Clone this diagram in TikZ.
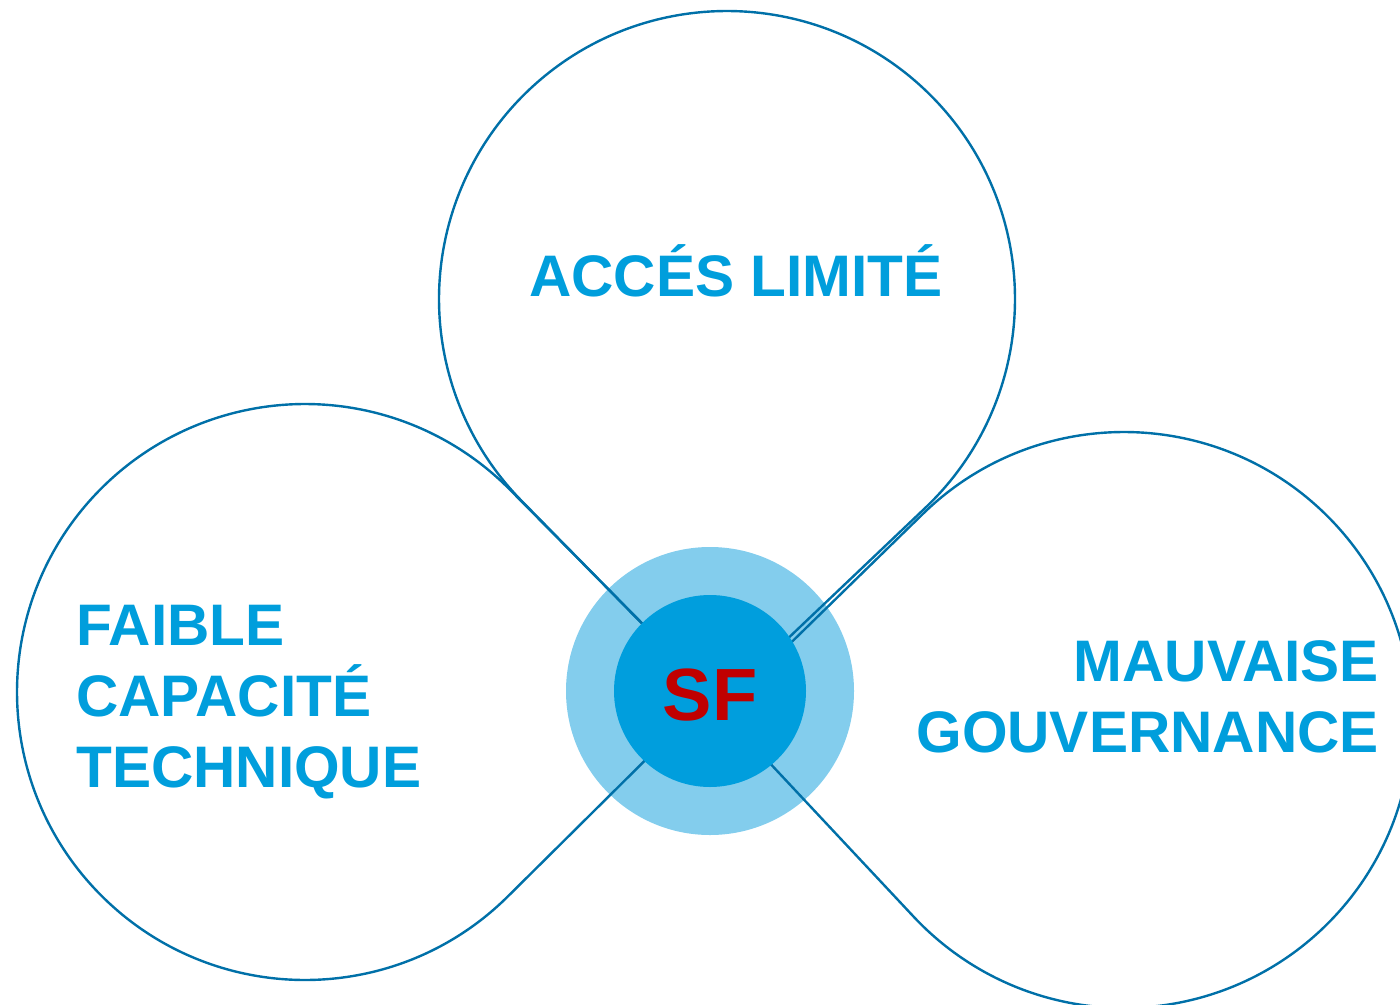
\documentclass[tikz,border=0pt]{standalone}
\usepackage{fontspec}
\setmainfont{Liberation Sans}
\definecolor{lineblue}{RGB}{0,112,168}
\definecolor{textblue}{RGB}{0,158,220}
\definecolor{innerblue}{RGB}{0,158,221}
\definecolor{lightblue}{RGB}{131,205,237}
\definecolor{sfred}{RGB}{192,0,0}
\tikzset{
  petal/.style={draw=lineblue, line width=2.4pt, line join=round},
  lbl/.style={text=textblue, font=\fontsize{58.6}{71}\selectfont\bfseries, inner sep=0pt},
}
\begin{document}
\begin{tikzpicture}[x=1pt,y=-1pt]
\useasboundingbox (0,0) rectangle (1400,1004);
\clip (0,0) rectangle (1400,1004);
% centre outer ring
\node[circle, fill=lightblue, minimum size=288pt, inner sep=0pt] (ring) at (710,691) {};
% petals
\coordinate (Pt) at (720,703);
\coordinate (Ct) at (727,299);
\coordinate (Pl) at (712,694);
\coordinate (Cl) at (305,692);
\coordinate (Pr) at (721,711);
\coordinate (Cr) at (1124,720);
\draw[petal] (Pt) -- ([shift={(Ct)}]46.45:288) arc[start angle=46.45, end angle=-224.47, radius=288] -- cycle;
\draw[petal] (Pl) -- ([shift={(Cl)}]45.24:288) arc[start angle=45.24, end angle=315.32, radius=288] -- cycle;
\draw[petal] (Pr) -- ([shift={(Cr)}]225.68:288) arc[start angle=225.68, end angle=496.88, radius=288] -- cycle;
% inner circle
\node[circle, fill=innerblue, minimum size=192pt, inner sep=0pt] (core) at (710,691) {};
\node[text=sfred, font=\fontsize{74}{80}\selectfont\bfseries, inner sep=0pt, anchor=base] (sf) at (710,720) {SF};
% labels
\node[lbl, anchor=base] (acces) at (736,296) {ACCÉS LIMITÉ};
\node[lbl, anchor=base west] (f1) at (76,645) {FAIBLE};
\node[lbl, anchor=base west] (f2) at (76,716) {CAPACITÉ};
\node[lbl, anchor=base west] (f3) at (76,787) {TECHNIQUE};
\node[lbl, anchor=base east] (m1) at (1379,681) {MAUVAISE};
\node[lbl, anchor=base east] (m2) at (1379,752) {GOUVERNANCE};
\end{tikzpicture}
\end{document}
